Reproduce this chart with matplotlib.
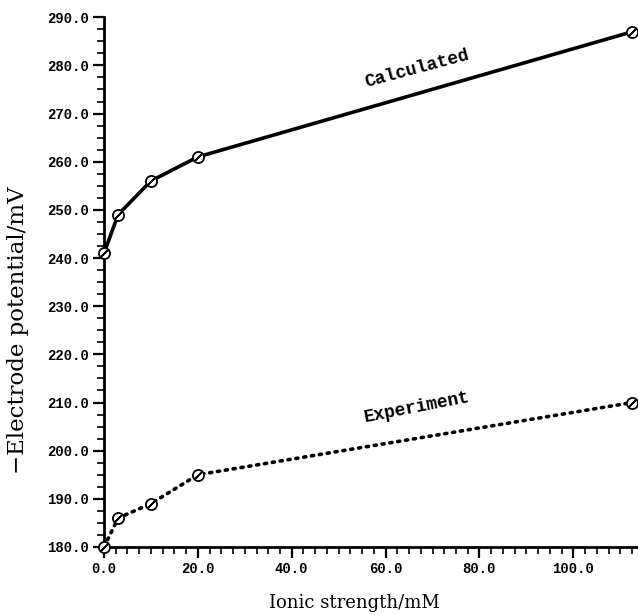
import matplotlib
matplotlib.use("Agg")
import matplotlib.pyplot as plt
from matplotlib.ticker import MultipleLocator, FormatStrFormatter

ionic = [0.0, 3.0, 10.0, 20.0, 112.6]
calculated = [241.0, 249.0, 256.0, 261.0, 287.0]
experiment = [180.0, 186.0, 189.0, 195.0, 210.0]

fig = plt.figure(figsize=(6.38, 6.15), dpi=100)
ax = fig.add_axes([0.163, 0.1106, 0.835, 0.8614])

tickfont = "Liberation Mono"
labfont = "DejaVu Serif"

for y, ls, lw in [(calculated, "-", 2.6), (experiment, (0, (0.6, 1.6)), 2.6)]:
    ax.plot(ionic, y, color="black", linestyle=ls, linewidth=lw,
            dash_capstyle="round", solid_capstyle="round", zorder=2, clip_on=False)
    ax.plot(ionic, y, linestyle="none", marker="o", markersize=8,
            markerfacecolor="white", markeredgecolor="black", markeredgewidth=1.3,
            zorder=3, clip_on=False)
    ax.plot(ionic, y, linestyle="none", marker=(2, 2, -45), markersize=7,
            markeredgecolor="black", markeredgewidth=1.2, zorder=4, clip_on=False)

ax.set_xlim(0, 113.5)
ax.set_ylim(180, 290)
ax.spines["top"].set_visible(False)
ax.spines["right"].set_visible(False)
ax.spines["left"].set_linewidth(2)
ax.spines["bottom"].set_linewidth(2)
ax.spines["bottom"].set_zorder(1)
ax.spines["left"].set_zorder(1)

ax.xaxis.set_major_locator(MultipleLocator(20))
ax.xaxis.set_minor_locator(MultipleLocator(2.5))
ax.yaxis.set_major_locator(MultipleLocator(10))
ax.yaxis.set_minor_locator(MultipleLocator(2.5))
ax.xaxis.set_major_formatter(FormatStrFormatter("%.1f"))
ax.yaxis.set_major_formatter(FormatStrFormatter("%.1f"))
ax.tick_params(which="major", direction="out", length=8, width=1.6, labelsize=10, pad=3)
ax.tick_params(which="minor", direction="out", length=5, width=1.2)
for lab in ax.get_xticklabels() + ax.get_yticklabels():
    lab.set_fontfamily(tickfont)
    lab.set_fontweight("bold")

ax.set_xlabel("Ionic strength/mM", fontfamily=labfont, fontsize=13)
ax.set_ylabel("\u2212Electrode potential/mV", fontfamily=labfont, fontsize=16.5)
ax.xaxis.set_label_coords(0.47, -0.088)
ax.yaxis.set_label_coords(-0.14, 0.409)

ax.text(66.6, 279.2, "Calculated", fontfamily=tickfont, fontweight="bold", fontsize=13,
        rotation=15, ha="center", va="center")
ax.text(66.6, 208.9, "Experiment", fontfamily=tickfont, fontweight="bold", fontsize=13,
        rotation=11, ha="center", va="center")

fig.savefig("out.png", dpi=100)
